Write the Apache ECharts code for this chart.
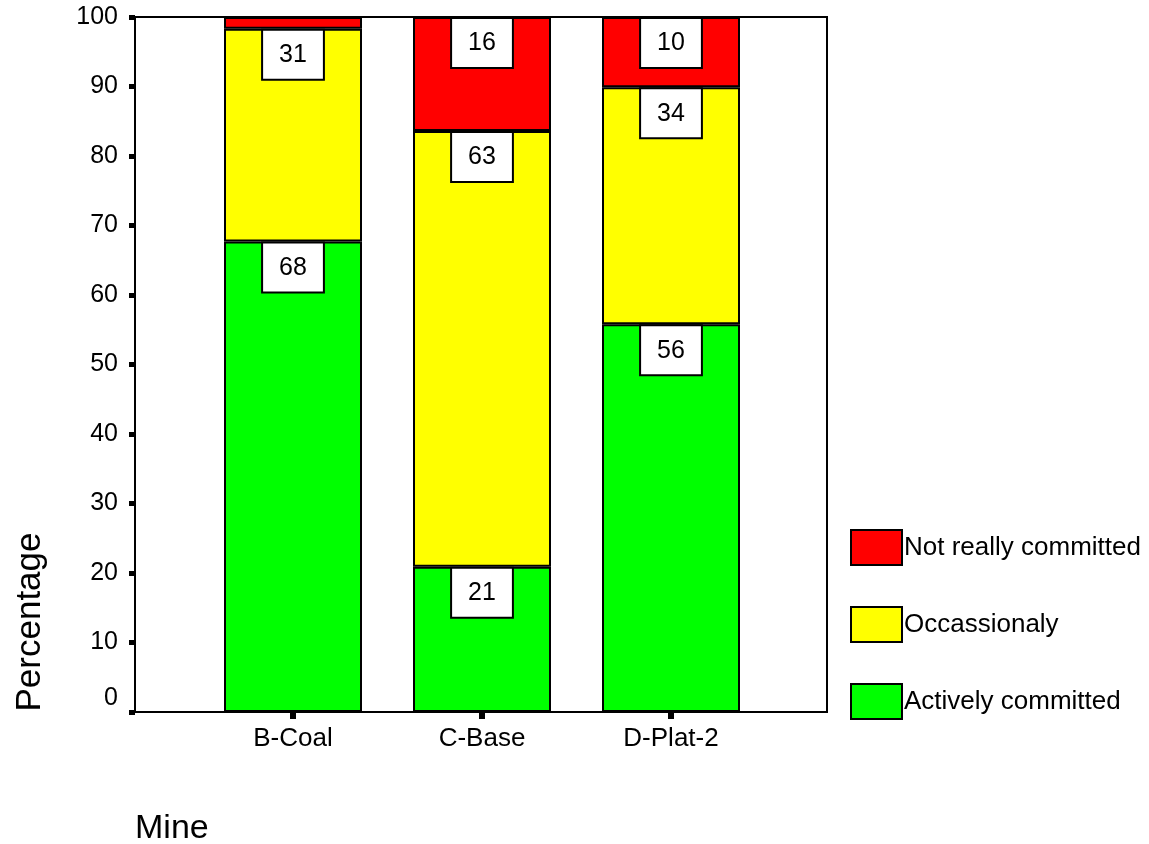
<!DOCTYPE html>
<html>
<head>
<meta charset="utf-8">
<script src="https://cdn.jsdelivr.net/npm/echarts@6/dist/echarts.min.js"></script>
<style>
html,body{margin:0;padding:0;background:#fff;}
#chart{width:1149px;height:844px;}
</style>
</head>
<body>
<div id="chart"></div>
<script>
const categories = ['B-Coal', 'C-Base', 'D-Plat-2'];
const activelyCommitted = [67.7, 20.9, 55.8];
const occasionaly = [30.6, 62.7, 34.1];
const notReallyCommitted = [1.7, 16.4, 10.1];
const yTicks = [0, 10, 20, 30, 40, 50, 60, 70, 80, 90, 100];

const FONT = 'Liberation Sans, Arial, sans-serif';

function toData(arr) {
  return arr.map(v => v < 5 ? { value: v, label: { show: false } } : v);
}

const labelStyle = {
  show: true,
  position: 'insideTop',
  distance: 2,
  formatter: p => String(Math.round(p.value)),
  color: '#000',
  fontFamily: FONT,
  fontSize: 25,
  lineHeight: 29,
  backgroundColor: '#fff',
  borderColor: '#000',
  borderWidth: 2,
  padding: [10, 16, 9, 16]
};

function mkSeries(name, arr, color) {
  return {
    name: name,
    type: 'bar',
    stack: 'total',
    xAxisIndex: 1,
    yAxisIndex: 1,
    barWidth: 138,
    data: toData(arr),
    itemStyle: { color: color, borderColor: '#000', borderWidth: 2 },
    label: labelStyle,
    emphasis: { disabled: true }
  };
}

const chart = echarts.init(document.getElementById('chart'), null, { renderer: 'canvas' });
chart.setOption({
  animation: false,
  backgroundColor: '#fff',
  grid: [
    { left: 135, top: 17, width: 692, height: 695, show: true, borderColor: '#000', borderWidth: 2, backgroundColor: 'transparent', z: 0 },
    { left: 198.5, top: 17, width: 567, height: 695 }
  ],
  xAxis: [
    { type: 'value', gridIndex: 0, min: 0, max: 1, show: false },
    {
      type: 'category', gridIndex: 1, data: categories,
      axisLine: { show: false },
      axisTick: { show: true, alignWithLabel: true, length: 7, lineStyle: { color: '#000', width: 6 } },
      axisLabel: { color: '#000', fontFamily: FONT, fontSize: 26, margin: 14 }
    }
  ],
  yAxis: [
    {
      type: 'value', gridIndex: 0, min: 0, max: 100, interval: 10,
      splitLine: { show: false },
      axisLine: { show: true, lineStyle: { color: '#000', width: 2 } },
      axisTick: { show: true, length: 6, lineStyle: { color: '#000', width: 5 } },
      axisLabel: {
        color: '#000', fontFamily: FONT, fontSize: 25, margin: 17,
        formatter: v => (yTicks.indexOf(v) >= 0 ? (v === 0 ? '{z|0}' : String(v)) : ''),
        rich: { z: { color: '#000', fontFamily: FONT, fontSize: 25, padding: [0, 0, 28, 0] } }
      }
    },
    { type: 'value', gridIndex: 1, min: 0, max: 100, show: false }
  ],
  legend: {
    orient: 'vertical',
    left: 845,
    top: 524,
    itemWidth: 51,
    itemHeight: 35,
    itemGap: 40,
    icon: 'rect',
    data: ['Not really committed', 'Occassionaly', 'Actively committed'],
    textStyle: { color: '#000', fontFamily: FONT, fontSize: 26, padding: [0, 0, 0, -3] },
    selectedMode: false
  },
  graphic: [
    {
      type: 'text', x: 30, y: 622, rotation: Math.PI / 2,
      style: { text: 'Percentage', fill: '#000', font: '35px Liberation Sans, Arial, sans-serif', textAlign: 'center', textVerticalAlign: 'middle' }
    },
    {
      type: 'text', x: 135, y: 829,
      style: { text: 'Mine', fill: '#000', font: '34px Liberation Sans, Arial, sans-serif', textAlign: 'left', textVerticalAlign: 'middle' }
    }
  ],
  series: [
    mkSeries('Actively committed', activelyCommitted, '#00FF00'),
    mkSeries('Occassionaly', occasionaly, '#FFFF00'),
    mkSeries('Not really committed', notReallyCommitted, '#FF0000')
  ]
});
</script>
</body>
</html>
